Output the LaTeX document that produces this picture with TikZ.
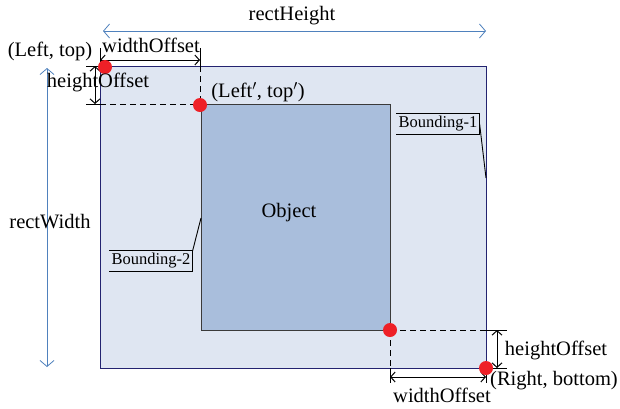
\documentclass[tikz,border=0pt]{standalone}
\usepackage{fontspec}
\setmainfont{Liberation Serif}
\usetikzlibrary{arrows.meta,positioning}
\definecolor{outerfill}{HTML}{DFE6F2}
\definecolor{outerline}{HTML}{232370}
\definecolor{innerfill}{HTML}{A9BEDC}
\definecolor{innerline}{HTML}{3A3A3A}
\definecolor{dotred}{HTML}{EE2027}
\definecolor{spanblue}{HTML}{4F81BD}
\tikzset{dot/.style={circle,fill=dotred,draw=none,minimum size=14pt,inner sep=0pt},
         lbl/.style={font=\fontsize{20.5}{24}\selectfont,inner sep=0pt},
         dim/.style={<->,>={Straight Barb[length=4.5pt,width=10pt]},line width=1pt},
         span/.style={<->,draw=spanblue,line width=0.8pt,>={Straight Barb[length=6pt,width=14pt]}},
         tick/.style={line width=1pt},
         guide/.style={line width=1pt,dash pattern=on 6pt off 4pt},
         tag/.style={font=\fontsize{16.5}{19}\selectfont,inner sep=2pt,minimum height=20pt}
}

\begin{document}
\begin{tikzpicture}[x=1pt,y=-1pt]
    \useasboundingbox (0,0) rectangle (620,408);

    % the two bounding rectangles
    \draw[fill=outerfill,draw=outerline,line width=0.9pt] (100,66) rectangle (486,368);
    \draw[fill=innerfill,draw=innerline,line width=1pt] (201,104) rectangle (390,330);
    \node[lbl] (obj) at (289,213) {Object};

    % corners
    \coordinate (lt) at (100,66);
    \coordinate (ltp) at (201,104);
    \coordinate (rbp) at (390,330);
    \coordinate (rb) at (486,368);

    % guides top left
    \draw[tick] (100,48) -- (lt);
    \draw[tick] (200,48) -- (200,66);
    \draw[guide] (200,66) -- (200,104);
    \draw[tick] (86,66) -- (lt);
    \draw[tick] (86,104) -- (100,104);
    \draw[guide] (100,104) -- (ltp);

    % guides bottom right
    \draw[guide] (rbp) -- (486,330);
    \draw[tick] (486,330) -- (507,330);
    \draw[tick] (rb) -- (507,368);
    \draw[guide] (rbp) -- (390,368);
    \draw[tick] (390,368) -- (390,383);
    \draw[tick] (rb) -- (486,383);

    % offsets
    \draw[dim] (100,60) -- (200,60);
    \draw[dim] (95,66) -- (95,104);
    \draw[dim] (497,330) -- (497,368);
    \draw[dim] (390,377) -- (486,377);

    % rect sizes
    \coordinate (hs) at (103,31);
    \coordinate (he) at (486,31);
    \coordinate (ws) at (47,68);
    \coordinate (we) at (47,367);
    \draw[span] (hs) -- (he);
    \draw[span] (ws) -- (we);

    % red points
    \node[dot] (p1) at (105,67) {};
    \node[dot] (p2) at (200,105) {};
    \node[dot] (p3) at (390,330) {};
    \node[dot] (p4) at (486,368) {};

    % texts
    \node[lbl] (rh) at (292,16) {rectHeight};
    \node[lbl] (rw) at (50,222) {rectWidth};
    \node[lbl] (wo1) at (151,45) {widthOffset};
    \node[lbl] (ho1) at (98,82) {heightOffset};
    \node[lbl] (tl) at (50,51) {(Left, top)};
    \node[lbl] (tlp) at (258,92) {(Left$'$, top$'$)};
    \node[lbl] (ho2) at (556,350) {heightOffset};
    \node[lbl] (br) at (554,381) {(Right, bottom)};
    \node[lbl] (wo2) at (442,395) {widthOffset};

    % callouts
    \node[tag] (b1) at (438,124) {Bounding-1};
    \coordinate (b1end) at (486,178);
    \draw[line width=0.9pt] (b1.north west) -- (b1.north east) -- (b1.south east) -- (b1.south west);
    \draw[line width=0.9pt] (b1.east) -- (b1end);

    \node[tag] (b2) at (151,261) {Bounding-2};
    \coordinate (b2end) at (201,218);
    \draw[line width=0.9pt] (b2.north west) -- (b2.north east) -- (b2.south east) -- (b2.south west);
    \draw[line width=0.9pt] (b2.north east) -- (b2end);
\end{tikzpicture}
\end{document}
